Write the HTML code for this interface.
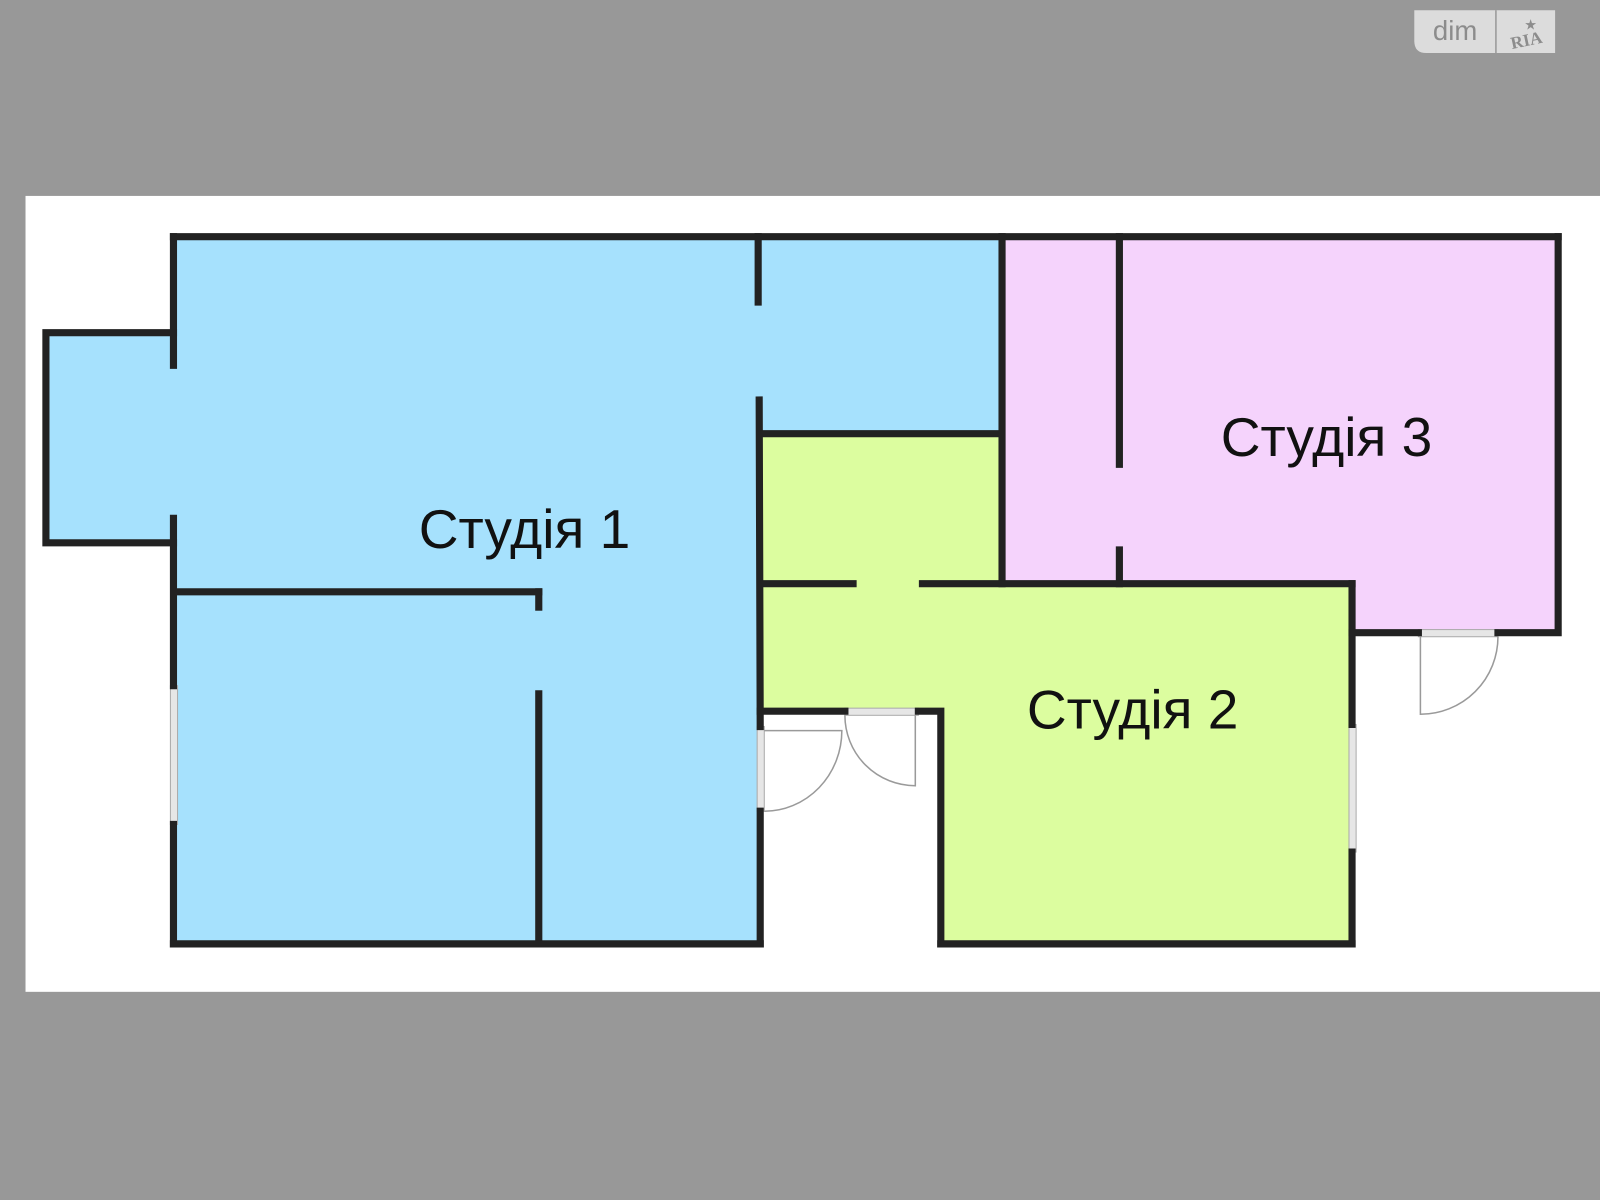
<!DOCTYPE html>
<html><head><meta charset="utf-8"><style>html,body{margin:0;padding:0;background:#989898}svg{display:block}</style></head>
<body>
<svg width="1600" height="1200" viewBox="0 0 1568 1176" xmlns="http://www.w3.org/2000/svg">
<rect x="0" y="0" width="1568" height="1176" fill="#989898"/>
<rect x="25" y="192" width="1543" height="780" fill="#ffffff"/>
<!-- logo -->
<path d="M1386 10 H1524 V52 H1398 Q1386 52 1386 40 Z" fill="#dcdcdc"/>
<line x1="1466" y1="10" x2="1466" y2="52" stroke="#999" stroke-width="1.5"/>
<text x="1426" y="39" font-family="Liberation Sans, sans-serif" font-size="27" fill="#8c8c8c" text-anchor="middle">dim</text>
<text x="1496" y="45" font-family="Liberation Serif, serif" font-weight="bold" font-size="17" fill="#8c8c8c" text-anchor="middle" transform="rotate(-12 1496 40)">RIA</text>
<text x="1500" y="29" font-family="DejaVu Sans, sans-serif" font-size="14" fill="#8c8c8c" text-anchor="middle">★</text>
<!-- fills -->
<polygon points="170,232 980,232 980,425 745,425 745,925 170,925 170,532 45,532 45,326 170,326" fill="#a6e1fd"/>
<polygon points="980,232 1527,232 1527,620 1325,620 1325,572 980,572" fill="#f5d3fc"/>
<polygon points="745,425 980,425 980,572 1325,572 1325,925 922,925 922,697 745,697" fill="#dcfd9f"/>
<!-- windows -->
<rect x="167" y="672" width="7" height="136" fill="#e6e6e6" stroke="#aaa" stroke-width="1"/>
<rect x="1322" y="710" width="7" height="125" fill="#e6e6e6" stroke="#aaa" stroke-width="1"/>
<rect x="742" y="712" width="7" height="83" fill="#e6e6e6" stroke="#aaa" stroke-width="1"/>
<rect x="828" y="694" width="72" height="7" fill="#e6e6e6" stroke="#aaa" stroke-width="1"/>
<rect x="1390" y="617" width="78" height="7" fill="#e6e6e6" stroke="#aaa" stroke-width="1"/>
<!-- door leaves -->
<g fill="none" stroke="#9a9a9a" stroke-width="1.5">
<path d="M749 716 H825 A76 79 0 0 1 749 795"/>
<path d="M897 701 V770 A69 69 0 0 1 828 701"/>
<path d="M1392 624 V700 A76 76 0 0 0 1468 624"/>
</g>
<!-- walls -->
<g stroke="#222" stroke-width="7" stroke-linecap="square" fill="none">
<line x1="170" y1="232" x2="1527" y2="232"/>
<polyline points="1527,232 1527,620 1468,620"/>
<line x1="1390" y1="620" x2="1325" y2="620"/>
<line x1="1325" y1="572" x2="1325" y2="710"/>
<line x1="1325" y1="835" x2="1325" y2="925"/>
<line x1="922" y1="925" x2="1325" y2="925"/>
<polyline points="922,925 922,697 900,697"/>
<polyline points="828,697 745,697"/>
<line x1="745" y1="795" x2="745" y2="925"/>
<line x1="170" y1="925" x2="745" y2="925"/>
<line x1="170" y1="925" x2="170" y2="808"/>
<line x1="170" y1="672" x2="170" y2="508"/>
<polyline points="170,532 45,532 45,326 170,326"/>
<line x1="170" y1="232" x2="170" y2="358"/>
<line x1="743" y1="232" x2="743" y2="296"/>
<line x1="744" y1="392" x2="745" y2="712"/>
<line x1="745" y1="425" x2="980" y2="425"/>
<line x1="982" y1="232" x2="982" y2="572"/>
<line x1="745" y1="572" x2="836" y2="572"/>
<line x1="904" y1="572" x2="1325" y2="572"/>
<line x1="1097" y1="232" x2="1097" y2="455"/>
<line x1="1097" y1="539" x2="1097" y2="572"/>
<line x1="175" y1="580" x2="528" y2="580"/>
<line x1="528" y1="580" x2="528" y2="595"/>
<line x1="528" y1="680" x2="528" y2="925"/>
</g>
<g font-family="Liberation Sans, DejaVu Sans, sans-serif" font-size="54" fill="#111" text-anchor="middle">
<text x="514" y="537">Студія 1</text>
<text x="1300" y="447">Студія 3</text>
<text x="1110" y="714">Студія 2</text>
</g>
</svg>
</body></html>
